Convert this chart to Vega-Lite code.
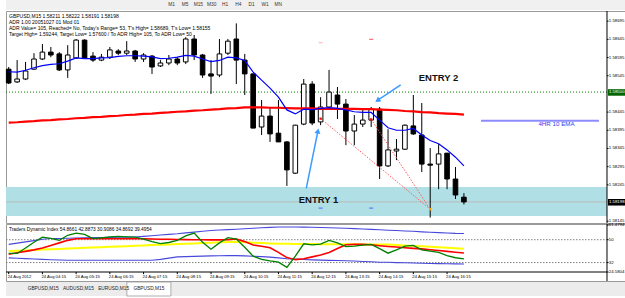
{
  "$schema": "https://vega.github.io/schema/vega-lite/v6.json",
  "background": "white",
  "padding": {"left": 3, "top": 0, "right": 0, "bottom": 0},
  "spacing": 1,
  "bounds": "flush",
  "config": {"font": "Liberation Sans", "view": {"stroke": null}, "scale": {"continuousPadding": 0}},
  "datasets": {
    "bars": [
      {"time":"2012-08-24T03:15","open":1.58563,"high":1.58569,"low":1.58522,"close":1.58525,"ema":1.58556,"ma":1.58416,"upper":46.3,"middle":41.1,"lower":35.7,"rsi":39.2,"signal":38.6},
      {"time":"2012-08-24T03:30","open":1.58528,"high":1.58588,"low":1.58525,"close":1.58536,"ema":1.58555,"ma":1.58417,"upper":47.3,"middle":41.4,"lower":35.4,"rsi":39.2,"signal":39.7},
      {"time":"2012-08-24T03:45","open":1.58536,"high":1.58583,"low":1.58533,"close":1.58558,"ema":1.58560,"ma":1.58419,"upper":48.3,"middle":41.6,"lower":35.1,"rsi":43.5,"signal":40.8},
      {"time":"2012-08-24T04:00","open":1.58563,"high":1.58607,"low":1.58561,"close":1.58591,"ema":1.58567,"ma":1.58420,"upper":49.3,"middle":41.9,"lower":34.8,"rsi":48.0,"signal":42.0},
      {"time":"2012-08-24T04:15","open":1.58591,"high":1.58632,"low":1.58588,"close":1.58610,"ema":1.58573,"ma":1.58422,"upper":50.3,"middle":42.2,"lower":34.5,"rsi":52.0,"signal":43.5},
      {"time":"2012-08-24T04:30","open":1.58610,"high":1.58624,"low":1.58596,"close":1.58602,"ema":1.58576,"ma":1.58423,"upper":50.9,"middle":42.5,"lower":34.2,"rsi":51.0,"signal":45.5},
      {"time":"2012-08-24T04:45","open":1.58605,"high":1.58610,"low":1.58558,"close":1.58561,"ema":1.58578,"ma":1.58425,"upper":51.0,"middle":42.7,"lower":34.0,"rsi":49.5,"signal":47.5},
      {"time":"2012-08-24T05:00","open":1.58561,"high":1.58629,"low":1.58539,"close":1.58602,"ema":1.58585,"ma":1.58426,"upper":51.1,"middle":43.0,"lower":33.8,"rsi":53.5,"signal":49.5},
      {"time":"2012-08-24T05:15","open":1.58594,"high":1.58646,"low":1.58591,"close":1.58643,"ema":1.58594,"ma":1.58428,"upper":51.3,"middle":43.3,"lower":33.8,"rsi":55.2,"signal":50.8},
      {"time":"2012-08-24T05:30","open":1.58643,"high":1.58645,"low":1.58591,"close":1.58594,"ema":1.58592,"ma":1.58429,"upper":51.5,"middle":43.6,"lower":33.8,"rsi":54.2,"signal":50.8},
      {"time":"2012-08-24T05:45","open":1.58599,"high":1.58610,"low":1.58583,"close":1.58588,"ema":1.58592,"ma":1.58431,"upper":51.6,"middle":43.8,"lower":33.8,"rsi":50.8,"signal":50.8},
      {"time":"2012-08-24T06:00","open":1.58588,"high":1.58605,"low":1.58585,"close":1.58596,"ema":1.58594,"ma":1.58432,"upper":51.7,"middle":44.1,"lower":33.8,"rsi":51.5,"signal":50.8},
      {"time":"2012-08-24T06:15","open":1.58596,"high":1.58624,"low":1.58591,"close":1.58616,"ema":1.58595,"ma":1.58434,"upper":51.8,"middle":44.4,"lower":33.8,"rsi":52.3,"signal":50.8},
      {"time":"2012-08-24T06:30","open":1.58613,"high":1.58618,"low":1.58602,"close":1.58607,"ema":1.58598,"ma":1.58435,"upper":51.9,"middle":44.7,"lower":33.8,"rsi":52.6,"signal":50.8},
      {"time":"2012-08-24T06:45","open":1.58607,"high":1.58640,"low":1.58602,"close":1.58613,"ema":1.58600,"ma":1.58437,"upper":52.0,"middle":44.9,"lower":33.8,"rsi":52.3,"signal":50.8},
      {"time":"2012-08-24T07:00","open":1.58613,"high":1.58616,"low":1.58583,"close":1.58591,"ema":1.58600,"ma":1.58438,"upper":52.1,"middle":45.2,"lower":33.8,"rsi":52.0,"signal":50.8},
      {"time":"2012-08-24T07:15","open":1.58591,"high":1.58607,"low":1.58583,"close":1.58602,"ema":1.58599,"ma":1.58440,"upper":52.6,"middle":45.5,"lower":33.8,"rsi":50.5,"signal":50.7},
      {"time":"2012-08-24T07:30","open":1.58599,"high":1.58602,"low":1.58550,"close":1.58569,"ema":1.58597,"ma":1.58441,"upper":53.1,"middle":45.8,"lower":33.8,"rsi":48.5,"signal":50.5},
      {"time":"2012-08-24T07:45","open":1.58572,"high":1.58588,"low":1.58569,"close":1.58580,"ema":1.58592,"ma":1.58443,"upper":53.7,"middle":46.0,"lower":34.5,"rsi":46.9,"signal":50.4},
      {"time":"2012-08-24T08:00","open":1.58580,"high":1.58602,"low":1.58574,"close":1.58591,"ema":1.58593,"ma":1.58444,"upper":54.2,"middle":46.3,"lower":35.5,"rsi":47.8,"signal":50.3},
      {"time":"2012-08-24T08:15","open":1.58591,"high":1.58596,"low":1.58574,"close":1.58580,"ema":1.58596,"ma":1.58446,"upper":54.7,"middle":46.6,"lower":36.5,"rsi":49.5,"signal":50.2},
      {"time":"2012-08-24T08:30","open":1.58583,"high":1.58651,"low":1.58577,"close":1.58646,"ema":1.58601,"ma":1.58447,"upper":55.4,"middle":46.9,"lower":36.7,"rsi":53.0,"signal":50.1},
      {"time":"2012-08-24T08:45","open":1.58646,"high":1.58657,"low":1.58588,"close":1.58602,"ema":1.58599,"ma":1.58449,"upper":56.0,"middle":47.1,"lower":36.9,"rsi":55.2,"signal":50.0},
      {"time":"2012-08-24T09:00","open":1.58602,"high":1.58605,"low":1.58539,"close":1.58547,"ema":1.58591,"ma":1.58450,"upper":56.6,"middle":47.4,"lower":37.1,"rsi":48.0,"signal":50.0},
      {"time":"2012-08-24T09:15","open":1.58550,"high":1.58588,"low":1.58495,"close":1.58544,"ema":1.58584,"ma":1.58452,"upper":57.3,"middle":47.7,"lower":37.3,"rsi":42.5,"signal":49.9},
      {"time":"2012-08-24T09:30","open":1.58547,"high":1.58646,"low":1.58541,"close":1.58605,"ema":1.58587,"ma":1.58453,"upper":57.6,"middle":48.0,"lower":37.4,"rsi":47.5,"signal":49.9},
      {"time":"2012-08-24T09:45","open":1.58607,"high":1.58646,"low":1.58602,"close":1.58640,"ema":1.58596,"ma":1.58455,"upper":57.9,"middle":48.2,"lower":37.5,"rsi":51.6,"signal":50.0},
      {"time":"2012-08-24T10:00","open":1.58646,"high":1.58689,"low":1.58522,"close":1.58588,"ema":1.58594,"ma":1.58456,"upper":58.2,"middle":48.3,"lower":37.5,"rsi":50.5,"signal":50.5},
      {"time":"2012-08-24T10:15","open":1.58588,"high":1.58605,"low":1.58492,"close":1.58550,"ema":1.58587,"ma":1.58458,"upper":58.6,"middle":48.0,"lower":37.3,"rsi":44.0,"signal":48.5},
      {"time":"2012-08-24T10:30","open":1.58550,"high":1.58552,"low":1.58401,"close":1.58401,"ema":1.58555,"ma":1.58458,"upper":59.0,"middle":47.7,"lower":37.0,"rsi":37.0,"signal":45.8},
      {"time":"2012-08-24T10:45","open":1.58404,"high":1.58478,"low":1.58382,"close":1.58434,"ema":1.58533,"ma":1.58458,"upper":59.4,"middle":47.4,"lower":36.7,"rsi":34.5,"signal":44.8},
      {"time":"2012-08-24T11:00","open":1.58434,"high":1.58459,"low":1.58363,"close":1.58385,"ema":1.58511,"ma":1.58457,"upper":59.7,"middle":47.1,"lower":36.3,"rsi":33.3,"signal":43.6},
      {"time":"2012-08-24T11:15","open":1.58387,"high":1.58478,"low":1.58363,"close":1.58363,"ema":1.58486,"ma":1.58457,"upper":60.0,"middle":46.9,"lower":35.7,"rsi":32.3,"signal":40.0},
      {"time":"2012-08-24T11:30","open":1.58363,"high":1.58365,"low":1.58242,"close":1.58286,"ema":1.58451,"ma":1.58456,"upper":60.0,"middle":46.8,"lower":35.0,"rsi":28.3,"signal":35.9},
      {"time":"2012-08-24T11:45","open":1.58277,"high":1.58410,"low":1.58275,"close":1.58409,"ema":1.58440,"ma":1.58455,"upper":60.0,"middle":46.7,"lower":34.7,"rsi":37.0,"signal":34.3},
      {"time":"2012-08-24T12:00","open":1.58412,"high":1.58536,"low":1.58409,"close":1.58522,"ema":1.58453,"ma":1.58455,"upper":59.9,"middle":46.6,"lower":34.4,"rsi":46.8,"signal":35.0},
      {"time":"2012-08-24T12:15","open":1.58522,"high":1.58530,"low":1.58409,"close":1.58415,"ema":1.58452,"ma":1.58455,"upper":59.8,"middle":46.6,"lower":34.1,"rsi":46.0,"signal":36.5},
      {"time":"2012-08-24T12:30","open":1.58418,"high":1.58486,"low":1.58409,"close":1.58459,"ema":1.58455,"ma":1.58454,"upper":59.6,"middle":46.5,"lower":33.9,"rsi":46.5,"signal":38.0},
      {"time":"2012-08-24T12:45","open":1.58459,"high":1.58561,"low":1.58453,"close":1.58500,"ema":1.58457,"ma":1.58454,"upper":59.4,"middle":46.5,"lower":33.7,"rsi":49.4,"signal":40.0},
      {"time":"2012-08-24T13:00","open":1.58492,"high":1.58514,"low":1.58426,"close":1.58467,"ema":1.58455,"ma":1.58454,"upper":59.2,"middle":46.4,"lower":33.6,"rsi":47.5,"signal":43.0},
      {"time":"2012-08-24T13:15","open":1.58467,"high":1.58481,"low":1.58354,"close":1.58393,"ema":1.58451,"ma":1.58454,"upper":59.0,"middle":46.4,"lower":33.4,"rsi":44.5,"signal":46.0},
      {"time":"2012-08-24T13:30","open":1.58393,"high":1.58437,"low":1.58354,"close":1.58412,"ema":1.58446,"ma":1.58454,"upper":58.7,"middle":46.4,"lower":33.2,"rsi":45.0,"signal":46.3},
      {"time":"2012-08-24T13:45","open":1.58412,"high":1.58453,"low":1.58404,"close":1.58423,"ema":1.58444,"ma":1.58453,"upper":58.4,"middle":46.3,"lower":32.9,"rsi":45.7,"signal":46.3},
      {"time":"2012-08-24T14:00","open":1.58423,"high":1.58459,"low":1.58404,"close":1.58453,"ema":1.58444,"ma":1.58453,"upper":58.1,"middle":46.3,"lower":32.6,"rsi":46.3,"signal":46.0},
      {"time":"2012-08-24T14:15","open":1.58453,"high":1.58459,"low":1.58261,"close":1.58297,"ema":1.58423,"ma":1.58452,"upper":57.8,"middle":46.3,"lower":32.3,"rsi":43.0,"signal":45.3},
      {"time":"2012-08-24T14:30","open":1.58297,"high":1.58398,"low":1.58294,"close":1.58341,"ema":1.58402,"ma":1.58451,"upper":57.5,"middle":46.2,"lower":32.2,"rsi":39.4,"signal":44.7},
      {"time":"2012-08-24T14:45","open":1.58338,"high":1.58371,"low":1.58313,"close":1.58343,"ema":1.58395,"ma":1.58450,"upper":57.2,"middle":45.8,"lower":32.0,"rsi":42.0,"signal":44.2},
      {"time":"2012-08-24T15:00","open":1.58343,"high":1.58411,"low":1.58341,"close":1.58409,"ema":1.58395,"ma":1.58448,"upper":56.9,"middle":45.5,"lower":31.9,"rsi":45.0,"signal":43.7},
      {"time":"2012-08-24T15:15","open":1.58407,"high":1.58492,"low":1.58382,"close":1.58385,"ema":1.58400,"ma":1.58447,"upper":56.6,"middle":45.1,"lower":31.7,"rsi":45.5,"signal":43.2},
      {"time":"2012-08-24T15:30","open":1.58382,"high":1.58470,"low":1.58280,"close":1.58302,"ema":1.58382,"ma":1.58445,"upper":56.2,"middle":44.8,"lower":31.5,"rsi":42.0,"signal":42.8},
      {"time":"2012-08-24T15:45","open":1.58302,"high":1.58346,"low":1.58155,"close":1.58299,"ema":1.58367,"ma":1.58444,"upper":55.9,"middle":44.4,"lower":31.3,"rsi":41.0,"signal":42.1},
      {"time":"2012-08-24T16:00","open":1.58302,"high":1.58357,"low":1.58233,"close":1.58330,"ema":1.58358,"ma":1.58442,"upper":55.6,"middle":44.0,"lower":31.2,"rsi":40.0,"signal":41.5},
      {"time":"2012-08-24T16:15","open":1.58332,"high":1.58333,"low":1.58233,"close":1.58261,"ema":1.58341,"ma":1.58441,"upper":55.3,"middle":43.6,"lower":31.1,"rsi":37.5,"signal":40.8},
      {"time":"2012-08-24T16:30","open":1.58261,"high":1.58294,"low":1.58206,"close":1.58217,"ema":1.58321,"ma":1.58440,"upper":55.0,"middle":43.2,"lower":31.0,"rsi":35.8,"signal":40.1},
      {"time":"2012-08-24T16:45","open":1.58211,"high":1.58222,"low":1.58191,"close":1.58198,"ema":1.58297,"ma":1.58438,"upper":54.9,"middle":42.9,"lower":30.9,"rsi":34.9,"signal":39.5}
    ],
    "priceLabels": [
      {"price": 1.58695, "label": "1.58695"}, {"price": 1.58645, "label": "1.58645"}, {"price": 1.58595, "label": "1.58595"},
      {"price": 1.58545, "label": "1.58545"}, {"price": 1.58445, "label": "1.58445"}, {"price": 1.58395, "label": "1.58395"},
      {"price": 1.58345, "label": "1.58345"}, {"price": 1.58295, "label": "1.58295"}, {"price": 1.58245, "label": "1.58245"},
      {"price": 1.58145, "label": "1.58145"}
    ],
    "tdiLabels": [
      {"value": 61.4794, "label": "61.4794"}, {"value": 50, "label": "50"}, {"value": 32, "label": "32"}, {"value": 24.5804, "label": "24.5804"}
    ],
    "timeLabels": [
      {"time": "2012-08-24T03:15", "label": "24 Aug 2012"},
      {"time": "2012-08-24T04:15", "label": "24 Aug 04:15"},
      {"time": "2012-08-24T05:15", "label": "24 Aug 05:15"},
      {"time": "2012-08-24T06:15", "label": "24 Aug 06:15"},
      {"time": "2012-08-24T07:15", "label": "24 Aug 07:15"},
      {"time": "2012-08-24T08:15", "label": "24 Aug 08:15"},
      {"time": "2012-08-24T09:15", "label": "24 Aug 09:15"},
      {"time": "2012-08-24T10:15", "label": "24 Aug 10:15"},
      {"time": "2012-08-24T11:15", "label": "24 Aug 11:15"},
      {"time": "2012-08-24T12:15", "label": "24 Aug 12:15"},
      {"time": "2012-08-24T13:15", "label": "24 Aug 13:15"},
      {"time": "2012-08-24T14:15", "label": "24 Aug 14:15"},
      {"time": "2012-08-24T15:15", "label": "24 Aug 15:15"},
      {"time": "2012-08-24T16:15", "label": "24 Aug 16:15"}
    ]
  },
  "vconcat": [
    {
      "width": 622, "height": 10,
      "view": {"fill": "#f0f0f0", "stroke": null},
      "data": {"values": [{"tf":"M1"},{"tf":"M5"},{"tf":"M15"},{"tf":"M30"},{"tf":"H1"},{"tf":"H4"},{"tf":"D1"},{"tf":"W1"},{"tf":"MN"}]},
      "mark": {"type": "text", "fontSize": 4.8, "color": "#333333"},
      "encoding": {
        "x": {"field": "tf", "type": "nominal", "scale": {"type": "point", "domain": ["M1","M5","M15","M30","H1","H4","D1","W1","MN"], "range": [159, 279]}, "axis": null},
        "text": {"field": "tf"}
      }
    },
    {
      "width": 622, "height": 212,
      "view": {"fill": "white", "stroke": "#9a9a9a"},
      "layer": [
        {"data": {"values": [{"start": "2012-08-24T03:10:12", "end": "2012-08-24T20:59:35", "top": 1.58239, "bottom": 1.58159}]},
         "mark": {"type": "rect", "color": "#b0e0e6"},
         "encoding": {
           "x": {"field": "start", "type": "temporal", "axis": null, "scale": {"domain": [{"year":2012,"month":8,"date":24,"hours":3,"minutes":10,"seconds":12},{"year":2012,"month":8,"date":24,"hours":21,"minutes":36,"seconds":58}], "nice": false, "padding": 0}},
           "x2": {"field": "end"},
           "y": {"field": "top", "type": "quantitative", "axis": null, "scale": {"domain": [1.5814, 1.58723], "zero": false, "nice": false, "padding": 0}},
           "y2": {"field": "bottom"}}},
        {"data": {"values": [{"start": "2012-08-24T03:10:12", "end": "2012-08-24T20:59:35", "price": 1.58198}]},
         "mark": {"type": "rule", "color": "#b8b8b8", "strokeWidth": 1},
         "encoding": {
           "x": {"field": "start", "type": "temporal", "axis": null, "scale": {"domain": [{"year":2012,"month":8,"date":24,"hours":3,"minutes":10,"seconds":12},{"year":2012,"month":8,"date":24,"hours":21,"minutes":36,"seconds":58}], "nice": false, "padding": 0}},
           "x2": {"field": "end"},
           "y": {"field": "price", "type": "quantitative", "axis": null, "scale": {"domain": [1.5814, 1.58723], "zero": false, "nice": false, "padding": 0}}}},
        {"data": {"values": [{"start": "2012-08-24T03:10:12", "end": "2012-08-24T20:59:35", "price": 1.585}]},
         "mark": {"type": "rule", "color": "#008000", "strokeWidth": 1, "strokeDash": [1, 2]},
         "encoding": {
           "x": {"field": "start", "type": "temporal", "axis": null, "scale": {"domain": [{"year":2012,"month":8,"date":24,"hours":3,"minutes":10,"seconds":12},{"year":2012,"month":8,"date":24,"hours":21,"minutes":36,"seconds":58}], "nice": false, "padding": 0}},
           "x2": {"field": "end"},
           "y": {"field": "price", "type": "quantitative", "axis": null, "scale": {"domain": [1.5814, 1.58723], "zero": false, "nice": false, "padding": 0}}}},
        {"data": {"values": [{"start": "2012-08-24T17:15:25", "end": "2012-08-24T20:45:18", "price": 1.58421}]},
         "mark": {"type": "rule", "color": "#8c8cff", "strokeWidth": 2},
         "encoding": {
           "x": {"field": "start", "type": "temporal", "axis": null, "scale": {"domain": [{"year":2012,"month":8,"date":24,"hours":3,"minutes":10,"seconds":12},{"year":2012,"month":8,"date":24,"hours":21,"minutes":36,"seconds":58}], "nice": false, "padding": 0}},
           "x2": {"field": "end"},
           "y": {"field": "price", "type": "quantitative", "axis": null, "scale": {"domain": [1.5814, 1.58723], "zero": false, "nice": false, "padding": 0}}}},
        {"data": {"name": "bars"},
         "encoding": {"x": {"field": "time", "type": "temporal", "axis": null, "scale": {"domain": [{"year":2012,"month":8,"date":24,"hours":3,"minutes":10,"seconds":12},{"year":2012,"month":8,"date":24,"hours":21,"minutes":36,"seconds":58}], "nice": false, "padding": 0}}},
         "layer": [
           {"mark": {"type": "rule", "color": "black", "strokeWidth": 1},
            "encoding": {
              "y": {"field": "low", "type": "quantitative", "axis": null, "scale": {"domain": [1.5814, 1.58723], "zero": false, "nice": false, "padding": 0}},
              "y2": {"field": "high"}}},
           {"mark": {"type": "bar", "size": 4.6, "stroke": "black", "strokeWidth": 1},
            "encoding": {
              "y": {"field": "open", "type": "quantitative", "axis": null, "scale": {"domain": [1.5814, 1.58723], "zero": false, "nice": false, "padding": 0}},
              "y2": {"field": "close"},
              "fill": {"condition": {"test": "datum.close < datum.open", "value": "black"}, "value": "white"}}},
           {"mark": {"type": "line", "color": "#ff0000", "strokeWidth": 2.2},
            "encoding": {"y": {"field": "ma", "type": "quantitative", "axis": null, "scale": {"domain": [1.5814, 1.58723], "zero": false, "nice": false, "padding": 0}}}},
           {"mark": {"type": "line", "color": "#0000ff", "strokeWidth": 1.2},
            "encoding": {"y": {"field": "ema", "type": "quantitative", "axis": null, "scale": {"domain": [1.5814, 1.58723], "zero": false, "nice": false, "padding": 0}}}}
         ]},
        {"data": {"values": [
           {"start": "2012-08-24T12:30", "end": "2012-08-24T15:45", "from": 1.58427, "to": 1.58178},
           {"start": "2012-08-24T14:00", "end": "2012-08-24T15:45", "from": 1.58425, "to": 1.58178}]},
         "mark": {"type": "rule", "color": "#ff5a5a", "strokeWidth": 1, "strokeDash": [1.5, 1.5]},
         "encoding": {
           "x": {"field": "start", "type": "temporal", "axis": null, "scale": {"domain": [{"year":2012,"month":8,"date":24,"hours":3,"minutes":10,"seconds":12},{"year":2012,"month":8,"date":24,"hours":21,"minutes":36,"seconds":58}], "nice": false, "padding": 0}},
           "x2": {"field": "end"},
           "y": {"field": "from", "type": "quantitative", "axis": null, "scale": {"domain": [1.5814, 1.58723], "zero": false, "nice": false, "padding": 0}},
           "y2": {"field": "to"}}},
        {"data": {"values": [{"time": "2012-08-24T12:30", "price": 1.58427}, {"time": "2012-08-24T14:00", "price": 1.58425}]},
         "mark": {"type": "square", "color": "#ff0000", "size": 5, "opacity": 1},
         "encoding": {
           "x": {"field": "time", "type": "temporal", "axis": null, "scale": {"domain": [{"year":2012,"month":8,"date":24,"hours":3,"minutes":10,"seconds":12},{"year":2012,"month":8,"date":24,"hours":21,"minutes":36,"seconds":58}], "nice": false, "padding": 0}},
           "y": {"field": "price", "type": "quantitative", "axis": null, "scale": {"domain": [1.5814, 1.58723], "zero": false, "nice": false, "padding": 0}}}},
        {"data": {"values": [{"time": "2012-08-24T15:45", "price": 1.58178}]},
         "mark": {"type": "square", "color": "#ffa500", "size": 6, "opacity": 1},
         "encoding": {
           "x": {"field": "time", "type": "temporal", "axis": null, "scale": {"domain": [{"year":2012,"month":8,"date":24,"hours":3,"minutes":10,"seconds":12},{"year":2012,"month":8,"date":24,"hours":21,"minutes":36,"seconds":58}], "nice": false, "padding": 0}},
           "y": {"field": "price", "type": "quantitative", "axis": null, "scale": {"domain": [1.5814, 1.58723], "zero": false, "nice": false, "padding": 0}}}},
        {"data": {"values": [{"time": "2012-08-24T12:30", "price": 1.58636}]},
         "mark": {"type": "tick", "orient": "horizontal", "color": "#ffb0b0", "size": 4, "thickness": 1.5},
         "encoding": {
           "x": {"field": "time", "type": "temporal", "axis": null, "scale": {"domain": [{"year":2012,"month":8,"date":24,"hours":3,"minutes":10,"seconds":12},{"year":2012,"month":8,"date":24,"hours":21,"minutes":36,"seconds":58}], "nice": false, "padding": 0}},
           "y": {"field": "price", "type": "quantitative", "axis": null, "scale": {"domain": [1.5814, 1.58723], "zero": false, "nice": false, "padding": 0}}}},
        {"data": {"values": [{"time": "2012-08-24T14:00", "price": 1.58645}]},
         "mark": {"type": "tick", "orient": "horizontal", "color": "#ff3030", "size": 4, "thickness": 1.2},
         "encoding": {
           "x": {"field": "time", "type": "temporal", "axis": null, "scale": {"domain": [{"year":2012,"month":8,"date":24,"hours":3,"minutes":10,"seconds":12},{"year":2012,"month":8,"date":24,"hours":21,"minutes":36,"seconds":58}], "nice": false, "padding": 0}},
           "y": {"field": "price", "type": "quantitative", "axis": null, "scale": {"domain": [1.5814, 1.58723], "zero": false, "nice": false, "padding": 0}}}},
        {"data": {"values": [{"time": "2012-08-24T12:30", "price": 1.58181}, {"time": "2012-08-24T14:00", "price": 1.58181}]},
         "mark": {"type": "tick", "orient": "horizontal", "color": "#3050ff", "size": 4, "thickness": 1.2},
         "encoding": {
           "x": {"field": "time", "type": "temporal", "axis": null, "scale": {"domain": [{"year":2012,"month":8,"date":24,"hours":3,"minutes":10,"seconds":12},{"year":2012,"month":8,"date":24,"hours":21,"minutes":36,"seconds":58}], "nice": false, "padding": 0}},
           "y": {"field": "price", "type": "quantitative", "axis": null, "scale": {"domain": [1.5814, 1.58723], "zero": false, "nice": false, "padding": 0}}}},
        {"data": {"values": [
           {"start": "2012-08-24T12:04:30", "end": "2012-08-24T12:25:12", "from": 1.58235, "to": 1.58393},
           {"start": "2012-08-24T14:52:30", "end": "2012-08-24T14:11:12", "from": 1.5852, "to": 1.58477}]},
         "mark": {"type": "rule", "color": "#3d9bff", "strokeWidth": 1.5},
         "encoding": {
           "x": {"field": "start", "type": "temporal", "axis": null, "scale": {"domain": [{"year":2012,"month":8,"date":24,"hours":3,"minutes":10,"seconds":12},{"year":2012,"month":8,"date":24,"hours":21,"minutes":36,"seconds":58}], "nice": false, "padding": 0}},
           "x2": {"field": "end"},
           "y": {"field": "from", "type": "quantitative", "axis": null, "scale": {"domain": [1.5814, 1.58723], "zero": false, "nice": false, "padding": 0}},
           "y2": {"field": "to"}}},
        {"data": {"values": [{"time": "2012-08-24T12:25:12", "price": 1.58393}]},
         "mark": {"type": "point", "shape": "triangle-up", "filled": true, "size": 36, "angle": 11, "color": "#3d9bff", "opacity": 1},
         "encoding": {
           "x": {"field": "time", "type": "temporal", "axis": null, "scale": {"domain": [{"year":2012,"month":8,"date":24,"hours":3,"minutes":10,"seconds":12},{"year":2012,"month":8,"date":24,"hours":21,"minutes":36,"seconds":58}], "nice": false, "padding": 0}},
           "y": {"field": "price", "type": "quantitative", "axis": null, "scale": {"domain": [1.5814, 1.58723], "zero": false, "nice": false, "padding": 0}}}},
        {"data": {"values": [{"time": "2012-08-24T14:11:12", "price": 1.58477}]},
         "mark": {"type": "point", "shape": "triangle-up", "filled": true, "size": 36, "angle": 236, "color": "#3d9bff", "opacity": 1},
         "encoding": {
           "x": {"field": "time", "type": "temporal", "axis": null, "scale": {"domain": [{"year":2012,"month":8,"date":24,"hours":3,"minutes":10,"seconds":12},{"year":2012,"month":8,"date":24,"hours":21,"minutes":36,"seconds":58}], "nice": false, "padding": 0}},
           "y": {"field": "price", "type": "quantitative", "axis": null, "scale": {"domain": [1.5814, 1.58723], "zero": false, "nice": false, "padding": 0}}}},
        {"data": {"values": [
           {"time": "2012-08-24T03:10:12", "price": 1.58708, "label": "GBPUSD,M15  1.58211 1.58222 1.58191 1.58198"},
           {"time": "2012-08-24T03:10:12", "price": 1.58693, "label": "ADR 1.00 20051027 01 Mod 01"},
           {"time": "2012-08-24T03:10:12", "price": 1.58676, "label": "ADR Value= 105, Reached= No, Today's Range= 53, T's High= 1.58689, T's Low= 1.58155"},
           {"time": "2012-08-24T03:10:12", "price": 1.5866, "label": "Target High= 1.59244, Target Low= 1.57600 / To ADR High= 105, To ADR Low= 50"}]},
         "mark": {"type": "text", "align": "left", "baseline": "middle", "fontSize": 5, "dx": 3, "color": "black"},
         "encoding": {
           "x": {"field": "time", "type": "temporal", "axis": null, "scale": {"domain": [{"year":2012,"month":8,"date":24,"hours":3,"minutes":10,"seconds":12},{"year":2012,"month":8,"date":24,"hours":21,"minutes":36,"seconds":58}], "nice": false, "padding": 0}},
           "y": {"field": "price", "type": "quantitative", "axis": null, "scale": {"domain": [1.5814, 1.58723], "zero": false, "nice": false, "padding": 0}},
           "text": {"field": "label"}}},
        {"data": {"values": [
           {"time": "2012-08-24T12:26:15", "price": 1.58203, "label": "ENTRY 1"},
           {"time": "2012-08-24T15:59:46", "price": 1.58539, "label": "ENTRY 2"}]},
         "mark": {"type": "text", "fontSize": 9.5, "fontWeight": "bold", "color": "#111111", "baseline": "middle"},
         "encoding": {
           "x": {"field": "time", "type": "temporal", "axis": null, "scale": {"domain": [{"year":2012,"month":8,"date":24,"hours":3,"minutes":10,"seconds":12},{"year":2012,"month":8,"date":24,"hours":21,"minutes":36,"seconds":58}], "nice": false, "padding": 0}},
           "y": {"field": "price", "type": "quantitative", "axis": null, "scale": {"domain": [1.5814, 1.58723], "zero": false, "nice": false, "padding": 0}},
           "text": {"field": "label"}}},
        {"data": {"values": [{"time": "2012-08-24T19:29:42", "price": 1.58411, "label": "4HR 10 EMA"}]},
         "mark": {"type": "text", "fontSize": 6.2, "color": "#3a3af0", "baseline": "middle"},
         "encoding": {
           "x": {"field": "time", "type": "temporal", "axis": null, "scale": {"domain": [{"year":2012,"month":8,"date":24,"hours":3,"minutes":10,"seconds":12},{"year":2012,"month":8,"date":24,"hours":21,"minutes":36,"seconds":58}], "nice": false, "padding": 0}},
           "y": {"field": "price", "type": "quantitative", "axis": null, "scale": {"domain": [1.5814, 1.58723], "zero": false, "nice": false, "padding": 0}},
           "text": {"field": "label"}}},
        {"data": {"values": [{"start": "2012-08-24T20:59:35", "top": 1.58723, "bottom": 1.5814}]},
         "mark": {"type": "rule", "color": "black", "strokeWidth": 1},
         "encoding": {
           "x": {"field": "start", "type": "temporal", "axis": null, "scale": {"domain": [{"year":2012,"month":8,"date":24,"hours":3,"minutes":10,"seconds":12},{"year":2012,"month":8,"date":24,"hours":21,"minutes":36,"seconds":58}], "nice": false, "padding": 0}},
           "y": {"field": "top", "type": "quantitative", "axis": null, "scale": {"domain": [1.5814, 1.58723], "zero": false, "nice": false, "padding": 0}},
           "y2": {"field": "bottom"}}},
        {"data": {"name": "priceLabels"},
         "mark": {"type": "rule", "color": "black", "strokeWidth": 1},
         "encoding": {
           "x": {"datum": {"year":2012,"month":8,"date":24,"hours":20,"minutes":59,"seconds":35}, "type": "temporal", "axis": null, "scale": {"domain": [{"year":2012,"month":8,"date":24,"hours":3,"minutes":10,"seconds":12},{"year":2012,"month":8,"date":24,"hours":21,"minutes":36,"seconds":58}], "nice": false, "padding": 0}},
           "x2": {"datum": {"year":2012,"month":8,"date":24,"hours":21,"minutes":2,"seconds":20}},
           "y": {"field": "price", "type": "quantitative", "axis": null, "scale": {"domain": [1.5814, 1.58723], "zero": false, "nice": false, "padding": 0}}}},
        {"data": {"name": "priceLabels"},
         "mark": {"type": "text", "fontSize": 4.3, "color": "black", "align": "left", "baseline": "middle"},
         "encoding": {
           "x": {"datum": {"year":2012,"month":8,"date":24,"hours":21,"minutes":2,"seconds":50}, "type": "temporal", "axis": null, "scale": {"domain": [{"year":2012,"month":8,"date":24,"hours":3,"minutes":10,"seconds":12},{"year":2012,"month":8,"date":24,"hours":21,"minutes":36,"seconds":58}], "nice": false, "padding": 0}},
           "y": {"field": "price", "type": "quantitative", "axis": null, "scale": {"domain": [1.5814, 1.58723], "zero": false, "nice": false, "padding": 0}},
           "text": {"field": "label"}}},
        {"data": {"values": [{"start": "2012-08-24T21:01:23", "end": "2012-08-24T21:36:58", "top": 1.58508, "bottom": 1.5849}]},
         "mark": {"type": "rect", "color": "#006400"},
         "encoding": {
           "x": {"field": "start", "type": "temporal", "axis": null, "scale": {"domain": [{"year":2012,"month":8,"date":24,"hours":3,"minutes":10,"seconds":12},{"year":2012,"month":8,"date":24,"hours":21,"minutes":36,"seconds":58}], "nice": false, "padding": 0}},
           "x2": {"field": "end"},
           "y": {"field": "top", "type": "quantitative", "axis": null, "scale": {"domain": [1.5814, 1.58723], "zero": false, "nice": false, "padding": 0}},
           "y2": {"field": "bottom"}}},
        {"data": {"values": [{"start": "2012-08-24T21:01:23", "end": "2012-08-24T21:36:58", "top": 1.58206, "bottom": 1.58188}]},
         "mark": {"type": "rect", "color": "#000000"},
         "encoding": {
           "x": {"field": "start", "type": "temporal", "axis": null, "scale": {"domain": [{"year":2012,"month":8,"date":24,"hours":3,"minutes":10,"seconds":12},{"year":2012,"month":8,"date":24,"hours":21,"minutes":36,"seconds":58}], "nice": false, "padding": 0}},
           "x2": {"field": "end"},
           "y": {"field": "top", "type": "quantitative", "axis": null, "scale": {"domain": [1.5814, 1.58723], "zero": false, "nice": false, "padding": 0}},
           "y2": {"field": "bottom"}}},
        {"data": {"values": [
           {"time": "2012-08-24T21:01:23", "price": 1.585, "label": "1.58500"},
           {"time": "2012-08-24T21:01:23", "price": 1.58197, "label": "1.58198"}]},
         "mark": {"type": "text", "fontSize": 4.3, "color": "white", "align": "left", "baseline": "middle", "dx": 1},
         "encoding": {
           "x": {"field": "time", "type": "temporal", "axis": null, "scale": {"domain": [{"year":2012,"month":8,"date":24,"hours":3,"minutes":10,"seconds":12},{"year":2012,"month":8,"date":24,"hours":21,"minutes":36,"seconds":58}], "nice": false, "padding": 0}},
           "y": {"field": "price", "type": "quantitative", "axis": null, "scale": {"domain": [1.5814, 1.58723], "zero": false, "nice": false, "padding": 0}},
           "text": {"field": "label"}}}
      ]
    },
    {
      "width": 622, "height": 57,
      "view": {"fill": "white", "stroke": "#9a9a9a"},
      "layer": [
        {"data": {"values": [
           {"start": "2012-08-24T03:10:12", "end": "2012-08-24T20:59:35", "level": 50},
           {"start": "2012-08-24T03:10:12", "end": "2012-08-24T20:59:35", "level": 32}]},
         "mark": {"type": "rule", "color": "#808080", "strokeWidth": 1, "strokeDash": [1.5, 1.5]},
         "encoding": {
           "x": {"field": "start", "type": "temporal", "axis": null, "scale": {"domain": [{"year":2012,"month":8,"date":24,"hours":3,"minutes":10,"seconds":12},{"year":2012,"month":8,"date":24,"hours":21,"minutes":36,"seconds":58}], "nice": false, "padding": 0}},
           "x2": {"field": "end"},
           "y": {"field": "level", "type": "quantitative", "axis": null, "scale": {"domain": [17.5, 62.36], "zero": false, "nice": false, "padding": 0}}}},
        {"data": {"name": "bars"},
         "encoding": {"x": {"field": "time", "type": "temporal", "axis": null, "scale": {"domain": [{"year":2012,"month":8,"date":24,"hours":3,"minutes":10,"seconds":12},{"year":2012,"month":8,"date":24,"hours":21,"minutes":36,"seconds":58}], "nice": false, "padding": 0}}},
         "layer": [
           {"mark": {"type": "line", "color": "#4848dc", "strokeWidth": 1.1},
            "encoding": {"y": {"field": "upper", "type": "quantitative", "axis": null, "scale": {"domain": [17.5, 62.36], "zero": false, "nice": false, "padding": 0}}}},
           {"mark": {"type": "line", "color": "#4848dc", "strokeWidth": 1.1},
            "encoding": {"y": {"field": "lower", "type": "quantitative", "axis": null, "scale": {"domain": [17.5, 62.36], "zero": false, "nice": false, "padding": 0}}}},
           {"mark": {"type": "line", "color": "#ffff00", "strokeWidth": 2},
            "encoding": {"y": {"field": "middle", "type": "quantitative", "axis": null, "scale": {"domain": [17.5, 62.36], "zero": false, "nice": false, "padding": 0}}}},
           {"mark": {"type": "line", "color": "#ff0000", "strokeWidth": 1.6},
            "encoding": {"y": {"field": "signal", "type": "quantitative", "axis": null, "scale": {"domain": [17.5, 62.36], "zero": false, "nice": false, "padding": 0}}}},
           {"mark": {"type": "line", "color": "#008000", "strokeWidth": 1.3},
            "encoding": {"y": {"field": "rsi", "type": "quantitative", "axis": null, "scale": {"domain": [17.5, 62.36], "zero": false, "nice": false, "padding": 0}}}}
         ]},
        {"data": {"values": [{"time": "2012-08-24T03:10:12", "value": 57.6, "label": "Traders Dynamic Index 54.8661 42.8873 30.9086 34.8692 39.4954"}]},
         "mark": {"type": "text", "fontSize": 4.8, "color": "black", "align": "left", "baseline": "middle", "dx": 3},
         "encoding": {
           "x": {"field": "time", "type": "temporal", "axis": null, "scale": {"domain": [{"year":2012,"month":8,"date":24,"hours":3,"minutes":10,"seconds":12},{"year":2012,"month":8,"date":24,"hours":21,"minutes":36,"seconds":58}], "nice": false, "padding": 0}},
           "y": {"field": "value", "type": "quantitative", "axis": null, "scale": {"domain": [17.5, 62.36], "zero": false, "nice": false, "padding": 0}},
           "text": {"field": "label"}}},
        {"data": {"values": [{"start": "2012-08-24T20:59:35", "top": 62.36, "bottom": 17.5}]},
         "mark": {"type": "rule", "color": "black", "strokeWidth": 1},
         "encoding": {
           "x": {"field": "start", "type": "temporal", "axis": null, "scale": {"domain": [{"year":2012,"month":8,"date":24,"hours":3,"minutes":10,"seconds":12},{"year":2012,"month":8,"date":24,"hours":21,"minutes":36,"seconds":58}], "nice": false, "padding": 0}},
           "y": {"field": "top", "type": "quantitative", "axis": null, "scale": {"domain": [17.5, 62.36], "zero": false, "nice": false, "padding": 0}},
           "y2": {"field": "bottom"}}},
        {"data": {"values": [{"start": "2012-08-24T03:10:12", "end": "2012-08-24T20:59:35", "level": 24.58}]},
         "mark": {"type": "rule", "color": "black", "strokeWidth": 1},
         "encoding": {
           "x": {"field": "start", "type": "temporal", "axis": null, "scale": {"domain": [{"year":2012,"month":8,"date":24,"hours":3,"minutes":10,"seconds":12},{"year":2012,"month":8,"date":24,"hours":21,"minutes":36,"seconds":58}], "nice": false, "padding": 0}},
           "x2": {"field": "end"},
           "y": {"field": "level", "type": "quantitative", "axis": null, "scale": {"domain": [17.5, 62.36], "zero": false, "nice": false, "padding": 0}}}},
        {"data": {"name": "tdiLabels"},
         "mark": {"type": "rule", "color": "black", "strokeWidth": 1},
         "encoding": {
           "x": {"datum": {"year":2012,"month":8,"date":24,"hours":20,"minutes":59,"seconds":35}, "type": "temporal", "axis": null, "scale": {"domain": [{"year":2012,"month":8,"date":24,"hours":3,"minutes":10,"seconds":12},{"year":2012,"month":8,"date":24,"hours":21,"minutes":36,"seconds":58}], "nice": false, "padding": 0}},
           "x2": {"datum": {"year":2012,"month":8,"date":24,"hours":21,"minutes":2,"seconds":20}},
           "y": {"field": "value", "type": "quantitative", "axis": null, "scale": {"domain": [17.5, 62.36], "zero": false, "nice": false, "padding": 0}}}},
        {"data": {"name": "tdiLabels"},
         "mark": {"type": "text", "fontSize": 4.3, "color": "black", "align": "left", "baseline": "middle"},
         "encoding": {
           "x": {"datum": {"year":2012,"month":8,"date":24,"hours":21,"minutes":2,"seconds":50}, "type": "temporal", "axis": null, "scale": {"domain": [{"year":2012,"month":8,"date":24,"hours":3,"minutes":10,"seconds":12},{"year":2012,"month":8,"date":24,"hours":21,"minutes":36,"seconds":58}], "nice": false, "padding": 0}},
           "y": {"field": "value", "type": "quantitative", "axis": null, "scale": {"domain": [17.5, 62.36], "zero": false, "nice": false, "padding": 0}},
           "text": {"field": "label"}}},
        {"data": {"name": "timeLabels"},
         "mark": {"type": "rule", "color": "black", "strokeWidth": 1},
         "encoding": {
           "x": {"field": "time", "type": "temporal", "axis": null, "scale": {"domain": [{"year":2012,"month":8,"date":24,"hours":3,"minutes":10,"seconds":12},{"year":2012,"month":8,"date":24,"hours":21,"minutes":36,"seconds":58}], "nice": false, "padding": 0}},
           "y": {"datum": 24.58, "type": "quantitative", "axis": null, "scale": {"domain": [17.5, 62.36], "zero": false, "nice": false, "padding": 0}},
           "y2": {"datum": 22.9}}},
        {"data": {"name": "timeLabels"},
         "mark": {"type": "text", "fontSize": 4.2, "color": "black", "align": "left", "baseline": "middle", "dx": -1},
         "encoding": {
           "x": {"field": "time", "type": "temporal", "axis": null, "scale": {"domain": [{"year":2012,"month":8,"date":24,"hours":3,"minutes":10,"seconds":12},{"year":2012,"month":8,"date":24,"hours":21,"minutes":36,"seconds":58}], "nice": false, "padding": 0}},
           "y": {"datum": 20.6, "type": "quantitative", "axis": null, "scale": {"domain": [17.5, 62.36], "zero": false, "nice": false, "padding": 0}},
           "text": {"field": "label"}}}
      ]
    },
    {
      "width": 622, "height": 14,
      "view": {"fill": "#ececec", "stroke": null},
      "data": {"values": [{"slot": "1", "tab": "GBPUSD,M15"}, {"slot": "2", "tab": "AUDUSD,M15"}, {"slot": "3", "tab": "EURUSD,M15"}, {"slot": "4", "tab": "GBPUSD,M15"}]},
      "encoding": {
        "x": {"field": "slot", "type": "nominal", "scale": {"type": "point", "domain": ["1", "2", "3", "4"], "range": [19.5, 160.5]}, "axis": null}
      },
      "layer": [
        {"transform": [{"filter": "datum.slot == '4'"}],
         "mark": {"type": "bar", "width": 44, "color": "white", "stroke": "#999999", "strokeWidth": 0.8}},
        {"mark": {"type": "text", "fontSize": 4.8, "color": "#222222"},
         "encoding": {"text": {"field": "tab"}}}
      ]
    }
  ]
}
